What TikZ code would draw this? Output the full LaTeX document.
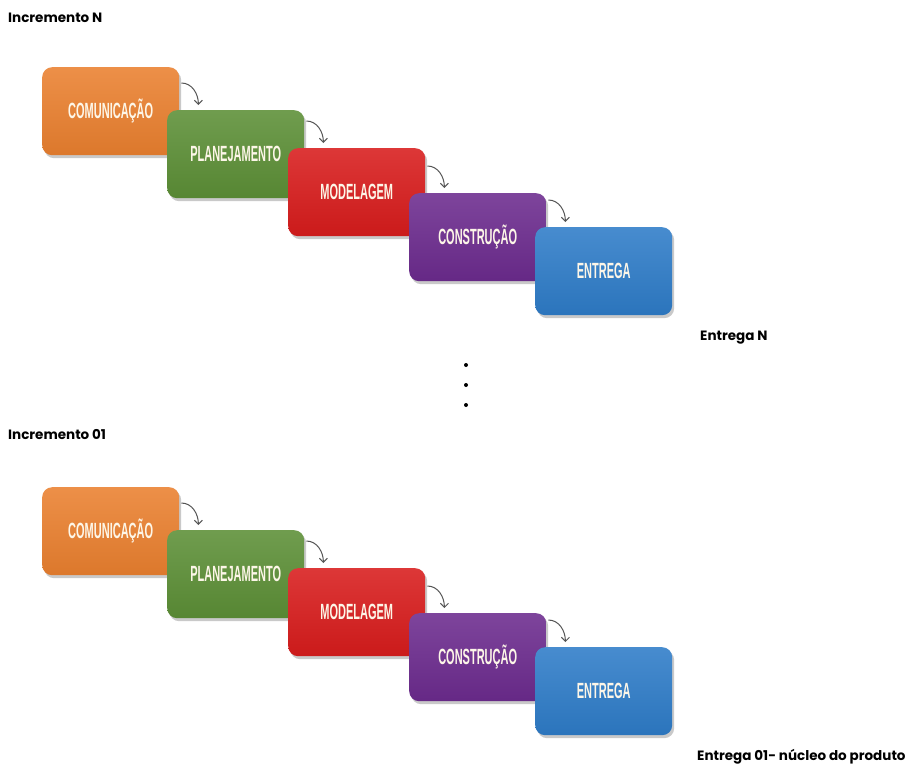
\documentclass[tikz,border=0pt]{standalone}
\usepackage{fontspec}
\setmainfont{Poppins}
\newfontfamily\boxfont{Liberation Sans}
\usetikzlibrary{shadows,arrows.meta}
\definecolor{cOrange}{HTML}{EA802F}
\definecolor{cGreen}{HTML}{5C8F36}
\definecolor{cRed}{HTML}{D81C1C}
\definecolor{cPurple}{HTML}{6C2B8E}
\definecolor{cBlue}{HTML}{2E7CC8}
\definecolor{cText}{HTML}{FDF6E8}
\definecolor{cArrow}{HTML}{555555}
\tikzset{
  phase/.style={anchor=north west, minimum width=137pt, minimum height=88pt,
    rounded corners=10pt, inner sep=0pt, text=cText,
    top color=#1!88!white, bottom color=#1!94!black,
    drop shadow={shadow xshift=2pt, shadow yshift=-3pt, opacity=0.35, fill=black!60},
    font=\boxfont\bfseries\fontsize{22}{24}\selectfont},
  flow/.style={cArrow, line width=1pt, -{Straight Barb[length=4pt,width=8pt]}},
  caption/.style={anchor=west, inner sep=0pt, font=\bfseries\fontsize{13.5}{15}\selectfont},
  dotmark/.style={circle, fill=black, inner sep=0pt, minimum size=4pt}
}
\newcommand{\narrow}[1]{\scalebox{0.5}[1]{#1}}
\begin{document}
\begin{tikzpicture}[x=1pt,y=-1pt]
\useasboundingbox (0,0) rectangle (913,766);
\fill[white] (0,0) rectangle (913,766);

% top increment
\node[caption] (incN) at (8,18) {Incremento N};
\node[phase=cOrange] (a1) at (42,67) {\narrow{COMUNICAÇÃO}};
\node[phase=cGreen] (a2) at (167,110) {\narrow{PLANEJAMENTO}};
\node[phase=cRed] (a3) at (288,148) {\narrow{MODELAGEM}};
\node[phase=cPurple] (a4) at (409,193) {\narrow{CONSTRUÇÃO}};
\node[phase=cBlue] (a5) at (535,227) {\narrow{ENTREGA}};
\foreach \i/\j in {1/2,2/3,3/4,4/5}{
  \coordinate (sa\i) at ([xshift=2pt,yshift=27pt]a\i.north east |- a\j.north);
  \coordinate (ta\i) at ([xshift=19pt,yshift=5pt]a\i.north east |- a\j.north);
  \draw[flow] (sa\i) to[out=0,in=90] (ta\i);
}
\node[caption] (entN) at (700,338) {Entrega N};

% ellipsis between increments
\node[dotmark] (d1) at (466,365) {};
\node[dotmark] (d2) at (466,385) {};
\node[dotmark] (d3) at (466,405) {};

% first increment
\node[caption] (inc1) at (8,435) {Incremento 01};
\node[phase=cOrange] (b1) at (42,487) {\narrow{COMUNICAÇÃO}};
\node[phase=cGreen] (b2) at (167,530) {\narrow{PLANEJAMENTO}};
\node[phase=cRed] (b3) at (288,568) {\narrow{MODELAGEM}};
\node[phase=cPurple] (b4) at (409,613) {\narrow{CONSTRUÇÃO}};
\node[phase=cBlue] (b5) at (535,647) {\narrow{ENTREGA}};
\foreach \i/\j in {1/2,2/3,3/4,4/5}{
  \coordinate (sb\i) at ([xshift=2pt,yshift=27pt]b\i.north east |- b\j.north);
  \coordinate (tb\i) at ([xshift=19pt,yshift=5pt]b\i.north east |- b\j.north);
  \draw[flow] (sb\i) to[out=0,in=90] (tb\i);
}
\node[caption] (ent1) at (697,757) {Entrega 01- núcleo do produto};
\end{tikzpicture}
\end{document}
